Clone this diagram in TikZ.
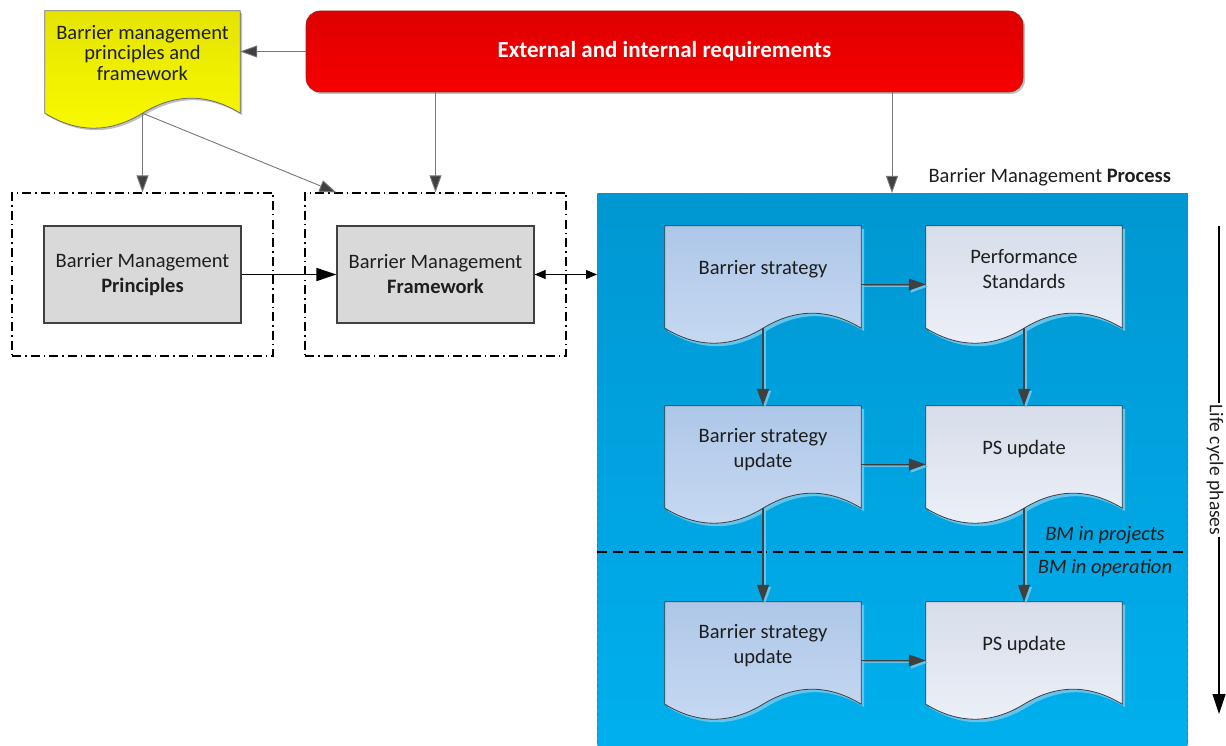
\documentclass[tikz,border=0pt]{standalone}
\usepackage{fontspec}
\setmainfont{Carlito}
\usetikzlibrary{arrows.meta,calc,shadows}

\pgfdeclarelayer{back}
\pgfdeclarelayer{docs}
\pgfsetlayers{back,docs,main}

\definecolor{ink}{RGB}{30,30,30}
\definecolor{reqtop}{RGB}{222,0,0}
\definecolor{reqbot}{RGB}{247,0,0}
\definecolor{reqedge}{RGB}{150,40,40}
\definecolor{ylwtop}{RGB}{228,228,0}
\definecolor{ylwbot}{RGB}{250,250,0}
\definecolor{ylwedge}{RGB}{110,110,110}
\definecolor{boxgray}{RGB}{217,217,217}
\definecolor{proctop}{RGB}{0,151,210}
\definecolor{procbot}{RGB}{0,176,238}
\definecolor{procedge}{RGB}{110,110,110}
\definecolor{bstop}{RGB}{174,199,232}
\definecolor{bsbot}{RGB}{199,217,242}
\definecolor{pstop}{RGB}{215,221,234}
\definecolor{psbot}{RGB}{236,240,248}
\definecolor{shadeblue}{RGB}{100,196,236}
\definecolor{docline}{RGB}{64,64,64}
\definecolor{feedgray}{RGB}{120,120,120}
\definecolor{tipgray}{RGB}{64,64,64}

% document symbol with a wavy lower edge, drawn behind the node it belongs to
\newcommand\wavedoc[2]{%
  \begin{pgfonlayer}{docs}
  \path[#2] let \p1=(#1.north west), \p2=(#1.south east), \n1={\x2-\x1} in
    (\x1,\y1) -- (\x2,\y1) -- (\x2,{\y2+15pt})
    .. controls ({\x2-\n1/6},{\y2+35pt}) and ({\x2-\n1/3},{\y2+35pt}) .. ({\x1+\n1/2},{\y2+15pt})
    .. controls ({\x1+\n1/3},{\y2-5pt}) and ({\x1+\n1/6},{\y2-5pt}) .. (\x1,{\y2+15pt}) -- cycle;
  \end{pgfonlayer}}

\begin{document}
\begin{tikzpicture}[x=1pt,y=-1pt,
  txt/.style={font=\fontsize{20.5}{25}\selectfont, text=ink},
  docnode/.style={minimum width=196pt, minimum height=117pt, inner sep=0pt},
  doclabel/.style={txt, align=center, yshift=15pt},
  group/.style={draw=black, line width=1.1pt, dash pattern=on 9pt off 4pt on 1.5pt off 4pt,
    minimum width=261pt, minimum height=163pt, inner sep=0pt},
  graybox/.style={draw=docline, line width=1.2pt, fill=boxgray, minimum width=197pt,
    minimum height=97pt, inner sep=0pt, txt, align=center},
  bsdoc/.style={draw=docline, line width=0.8pt, top color=bstop, bottom color=bsbot,
    drop shadow={shadow xshift=3pt, shadow yshift=-3pt, fill=shadeblue, opacity=1}},
  psdoc/.style={draw=docline, line width=0.8pt, top color=pstop, bottom color=psbot,
    drop shadow={shadow xshift=3pt, shadow yshift=-3pt, fill=shadeblue, opacity=1}},
  ylwdoc/.style={draw=ylwedge, line width=0.8pt, top color=ylwtop, bottom color=ylwbot,
    drop shadow={shadow xshift=2pt, shadow yshift=-2pt, fill=black, opacity=0.25}},
  feed/.style={draw=feedgray, line width=0.9pt,
    -{Triangle[length=17pt,width=12pt,fill=tipgray]}},
  flow/.style={draw=docline, line width=1.1pt, -{Triangle[length=17pt,width=12pt]},
    preaction={draw=shadeblue, line width=1.6pt, transform canvas={shift={(2pt,-2pt)}}}},
]
\useasboundingbox (0,0) rectangle (1226,746);

% process area
\begin{pgfonlayer}{back}
  \node[draw=procedge, dash pattern=on 4pt off 3pt, line width=0.8pt,
        top color=proctop, bottom color=procbot, minimum width=590pt,
        minimum height=562pt, inner sep=0pt, anchor=north west] (proc) at (597,193) {};
\end{pgfonlayer}

% requirements banner
\node[draw=reqedge, line width=0.6pt, rounded corners=14pt, top color=reqtop, bottom color=reqbot,
      minimum width=717pt, minimum height=81pt, text=white,
      font=\fontsize{23}{27}\selectfont\bfseries,
      drop shadow={shadow xshift=2pt, shadow yshift=-2pt, fill=black, opacity=0.25}]
      (req) at (664.5,51.5) {External and internal requirements};

% principles and framework document
\node[docnode, minimum width=195pt,
      label={[doclabel, yshift=1.5pt, font=\fontsize{20.5}{20.5}\selectfont]center:{Barrier management\\principles and\\framework}}]
      (ydoc) at (142.5,69.5) {};
\wavedoc{ydoc}{ylwdoc}

% dash-dotted groups with their boxes
\node[group] (pgrp) at (142.5,274.5) {};
\node[group] (fgrp) at (435.5,274.5) {};
\node[graybox] (prin) at (142.5,274.5) {Barrier Management\\\textbf{Principles}};
\node[graybox] (fwk) at (435.5,274.5) {Barrier Management\\\textbf{Framework}};

\node[txt, anchor=west] (proclbl) at (925,177) {Barrier Management \textbf{Process}};

% process documents
\node[docnode, label={[doclabel]center:{Barrier strategy}}] (bs1) at (763,284.5) {};
\node[docnode, label={[doclabel]center:{Performance\\Standards}}] (ps1) at (1024,284.5) {};
\node[docnode, label={[doclabel]center:{Barrier strategy\\update}}] (bs2) at (763,464.5) {};
\node[docnode, label={[doclabel]center:{PS update}}] (ps2) at (1024,464.5) {};
\node[docnode, label={[doclabel]center:{Barrier strategy\\update}}] (bs3) at (763,660.5) {};
\node[docnode, label={[doclabel]center:{PS update}}] (ps3) at (1024,660.5) {};
\wavedoc{bs1}{bsdoc}
\wavedoc{ps1}{psdoc}
\wavedoc{bs2}{bsdoc}
\wavedoc{ps2}{psdoc}
\wavedoc{bs3}{bsdoc}
\wavedoc{ps3}{psdoc}

% phase split
\draw[line width=1.5pt, dash pattern=on 10pt off 6pt] (proc.west |- 0,552) -- (proc.east |- 0,552);
\node[txt, font=\fontsize{20.5}{25}\selectfont\itshape] (bmproj) at (1105,535) {BM in projects};
\node[txt, font=\fontsize{20.5}{25}\selectfont\itshape] (bmop) at (1105,568) {BM in operation};

% life cycle axis
\node[txt, font=\fontsize{19.5}{24}\selectfont, rotate=-90, inner sep=1pt] (life) at (1215,470) {Life cycle phases};
\coordinate (lifetop) at (1219,226);
\coordinate (lifeend) at (1219,714);
\draw[line width=1.2pt] (lifetop) -- (lifetop |- life.west);
\draw[line width=1.2pt, -{Triangle[length=20pt,width=13pt]}] (lifeend |- life.east) -- (lifeend);

% connectors from the requirements and the guidance document
\coordinate (proctop) at (892,193);
\draw[feed] (req.west) -- (req.west -| ydoc.east);
\draw[feed] ($(ydoc.south)+(0,-15)$) -- (pgrp.north);
\draw[feed] ($(ydoc.south)+(0,-15)$) -- (fwk.west |- fgrp.north);
\draw[feed] (req.south -| fgrp.north) -- (fgrp.north);
\draw[feed] (req.south -| proctop) -- (proctop);

\draw[line width=1.6pt, -{Triangle[length=20pt,width=13pt]}] (prin) -- (fwk);
\draw[line width=1pt, {Triangle[length=11pt,width=9pt]}-{Triangle[length=11pt,width=9pt]}]
  (fwk.east) -- (proc.west |- fwk.east);

% flow through the process
\draw[flow] (bs1) -- (ps1);
\draw[flow] (bs2) -- (ps2);
\draw[flow] (bs3) -- (ps3);
\draw[flow] ($(bs1.south)+(0,-15)$) -- (bs2.north);
\draw[flow] ($(ps1.south)+(0,-15)$) -- (ps2.north);
\draw[flow] ($(bs2.south)+(0,-15)$) -- (bs3.north);
\draw[flow] ($(ps2.south)+(0,-15)$) -- (ps3.north);
\end{tikzpicture}
\end{document}
